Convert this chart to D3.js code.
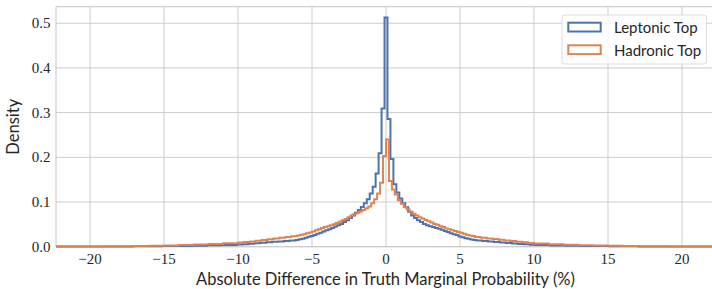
<!DOCTYPE html>
<html><head><meta charset="utf-8">
<script src="https://cdn.jsdelivr.net/npm/d3@7"></script>
<style>
html,body{margin:0;padding:0;background:#fff;}
svg{display:block;}
</style></head>
<body><svg id="c" width="712" height="289"></svg>
<script>
// ---- data ----
const seriesNames = ["Leptonic Top", "Hadronic Top"];
const xTicks = [-20, -15, -10, -5, 0, 5, 10, 15, 20];
const yTicks = [0.0, 0.1, 0.2, 0.3, 0.4, 0.5];
const yTickLabels = ["0.0", "0.1", "0.2", "0.3", "0.4", "0.5"];

// Leptonic bins: edges (tails coarser, core width 0.2 centred on 0)
const lepTailLeftEdges = [-23.1, -21.1, -20.1, -19.1, -18.1, -17.1, -16.1, -15.1, -14.1, -13.1, -12.1, -11.1, -10.1, -9.7, -9.3, -8.9, -8.5, -8.1, -7.7, -7.3, -6.9, -6.5];
const lepTailRightEdges = [6.5, 6.9, 7.3, 7.7, 8.1, 8.5, 8.9, 9.3, 9.7, 10.1, 11.1, 12.1, 13.1, 14.1, 15.1, 16.1, 17.1, 18.1, 19.1, 20.1, 21.1, 23.1];
const lepTailLeft = [0.0002, 0.0003, 0.0004, 0.0005, 0.0006, 0.0008, 0.0011, 0.0014, 0.0018, 0.0024, 0.0031, 0.0040,
  0.0048, 0.0056, 0.0065, 0.0075, 0.0086, 0.0097, 0.0108, 0.0119, 0.0129, 0.0139];
const lepCore = [0.015, 0.0165, 0.018, 0.020, 0.022, 0.024, 0.026, 0.029, 0.031, 0.034, 0.037, 0.039, 0.042, 0.045, 0.048, 0.051,
  0.055, 0.059, 0.064, 0.070, 0.076, 0.082, 0.089, 0.097, 0.106, 0.119, 0.134, 0.164, 0.209, 0.309,
  0.513,
  0.286, 0.196, 0.140, 0.121, 0.108, 0.097, 0.088, 0.078, 0.070, 0.064, 0.059, 0.055, 0.051, 0.048, 0.046,
  0.044, 0.042, 0.040, 0.038, 0.035, 0.033, 0.030, 0.028, 0.026, 0.023, 0.021, 0.019, 0.018, 0.016, 0.015];
const lepTailRight = [0.0138, 0.0127, 0.0116, 0.0105, 0.0094, 0.0083, 0.0072, 0.0062, 0.0053, 0.0045,
  0.0037, 0.0029, 0.0023, 0.0017, 0.0013, 0.0010, 0.0008, 0.0006, 0.0005, 0.0004, 0.0003, 0.0002];

// Hadronic bins: core width 0.2 with edges on multiples of 0.2
const hadTailLeftEdges = [-23, -21, -20, -19, -18, -17, -16, -15, -14, -13, -12, -11, -10, -9.6, -9.2, -8.8, -8.4, -8.0, -7.6, -7.2, -6.8, -6.4];
const hadTailRightEdges = [6.4, 6.8, 7.2, 7.6, 8.0, 8.4, 8.8, 9.2, 9.6, 10, 11, 12, 13, 14, 15, 16, 17, 18, 19, 20, 21, 23];
const hadTailLeft = [0.0004, 0.0005, 0.0007, 0.0009, 0.0012, 0.0016, 0.0021, 0.0028, 0.0037, 0.0048, 0.0062, 0.0078,
  0.0093, 0.0105, 0.0119, 0.0134, 0.0150, 0.0166, 0.0183, 0.0200, 0.0218, 0.0235];
const hadCore = [0.025, 0.027, 0.028, 0.030, 0.032, 0.034, 0.037, 0.039, 0.042, 0.044, 0.046, 0.048, 0.050, 0.053, 0.056,
  0.059, 0.062, 0.066, 0.070, 0.073, 0.076, 0.079, 0.082, 0.086, 0.090, 0.097, 0.106, 0.119, 0.143, 0.203,
  0.240, 0.147, 0.128, 0.117, 0.104, 0.096, 0.089, 0.083, 0.078, 0.074, 0.070, 0.066, 0.063, 0.060, 0.057,
  0.054, 0.051, 0.049, 0.046, 0.044, 0.041, 0.039, 0.037, 0.035, 0.033, 0.031, 0.029, 0.027, 0.025, 0.024];
const hadTailRight = [0.0215, 0.0200, 0.0185, 0.0170, 0.0155, 0.0140, 0.0125, 0.0110, 0.0097, 0.0085,
  0.0070, 0.0055, 0.0043, 0.0033, 0.0025, 0.0019, 0.0014, 0.0011, 0.0008, 0.0006, 0.0005, 0.0004];

// ---- build bins ----
const lepCoreEdges = d3.range(lepCore.length + 1).map(i => +(-6.1 + 0.2 * i).toFixed(2));
const hadCoreEdges = d3.range(hadCore.length + 1).map(i => +(-6.0 + 0.2 * i).toFixed(2));
const lepEdges = lepTailLeftEdges.concat(lepCoreEdges, lepTailRightEdges);
const lepVals = lepTailLeft.concat(lepCore, lepTailRight);
const hadEdges = hadTailLeftEdges.concat(hadCoreEdges, hadTailRightEdges);
const hadVals = hadTailLeft.concat(hadCore, hadTailRight);

const colors = ["#4c72b0", "#dd8452"];
const SERIF = "Liberation Serif, Tinos, DejaVu Serif, Noto Serif, Times New Roman, Times, serif";
const SANS = "Lato, Open Sans, sans-serif";
const TXT = "#262626";

// ---- layout ----
const L = 56, R = 712, T = 6.7, B = 246.7;
const x = d3.scaleLinear().domain([-22.3, 22.03]).range([L, R]);
const y = d3.scaleLinear().domain([0, 0.537]).range([B, T]);

const svg = d3.select("#c");
svg.append("defs").append("clipPath").attr("id", "clip")
  .append("rect").attr("x", L).attr("y", T).attr("width", R - L).attr("height", B - T + 2);

// grid
const g = svg.append("g");
g.selectAll(".gx").data(xTicks).enter().append("line")
  .attr("x1", d => x(d)).attr("x2", d => x(d)).attr("y1", T).attr("y2", B)
  .attr("stroke", "#cccccc").attr("stroke-width", 1);
g.selectAll(".gy").data(yTicks).enter().append("line")
  .attr("x1", L).attr("x2", R).attr("y1", d => y(d)).attr("y2", d => y(d))
  .attr("stroke", "#cccccc").attr("stroke-width", 1);
// spines
g.append("rect").attr("x", L).attr("y", T).attr("width", R - L + 5).attr("height", B - T)
  .attr("fill", "none").attr("stroke", "#cccccc").attr("stroke-width", 1.1);

// histograms
function stepPts(edges, vals) {
  const pts = [[edges[0], 0]];
  vals.forEach((v, i) => pts.push([edges[i], v]));
  pts.push([edges[edges.length - 1], vals[vals.length - 1]]);
  pts.push([edges[edges.length - 1], 0]);
  return pts;
}
const line = d3.line().x(d => x(d[0])).y(d => y(d[1])).curve(d3.curveStepAfter);
const hg = svg.append("g").attr("clip-path", "url(#clip)");
[[lepEdges, lepVals], [hadEdges, hadVals]].forEach((s, i) => {
  hg.append("path").attr("d", line(stepPts(s[0], s[1])))
    .attr("fill", "none").attr("stroke", colors[i]).attr("stroke-width", 2)
    .attr("stroke-linejoin", "miter");
});

// tick labels
const fmtX = d => (d < 0 ? "\u2212" + Math.abs(d) : String(d));
svg.selectAll(".xt").data(xTicks).enter().append("text")
  .style("font-family", SERIF).style("font-size", "15px").attr("fill", TXT)
  .attr("x", d => x(d)).attr("y", 263.5)
  .attr("text-anchor", "middle").text(fmtX);
svg.selectAll(".yt").data(yTicks).enter().append("text")
  .style("font-family", SERIF).style("font-size", "15px").attr("fill", TXT)
  .attr("x", 50.5).attr("y", d => y(d) + 5)
  .attr("text-anchor", "end").text((d, i) => yTickLabels[i]);

// axis labels
svg.append("text").style("font-family", SANS).style("font-size", "16.5px").attr("fill", TXT)
  .attr("x", 385.5).attr("y", 284.5)
  .attr("text-anchor", "middle").text("Absolute Difference in Truth Marginal Probability (%)");
svg.append("text").style("font-family", SANS).style("font-size", "16.5px").attr("fill", TXT)
  .attr("transform", "translate(19," + ((T + B) / 2) + ") rotate(-90)")
  .attr("text-anchor", "middle").text("Density");

// legend
const lg = svg.append("g");
lg.append("rect").attr("x", 562).attr("y", 15).attr("width", 144.5).attr("height", 49)
  .attr("rx", 3).attr("fill", "#ffffff").attr("fill-opacity", 0.8)
  .attr("stroke", "#dddddd").attr("stroke-width", 1);
seriesNames.forEach((n, i) => {
  const yy = 22.7 + i * 22.6;
  lg.append("rect").attr("x", 568.3).attr("y", yy).attr("width", 32.4).attr("height", 8.8)
    .attr("fill", "none").attr("stroke", colors[i]).attr("stroke-width", 2);
  lg.append("text").style("font-family", SANS).style("font-size", "15px").attr("fill", TXT)
    .attr("x", 614).attr("y", yy + 10.3).text(n);
});
</script></body></html>
